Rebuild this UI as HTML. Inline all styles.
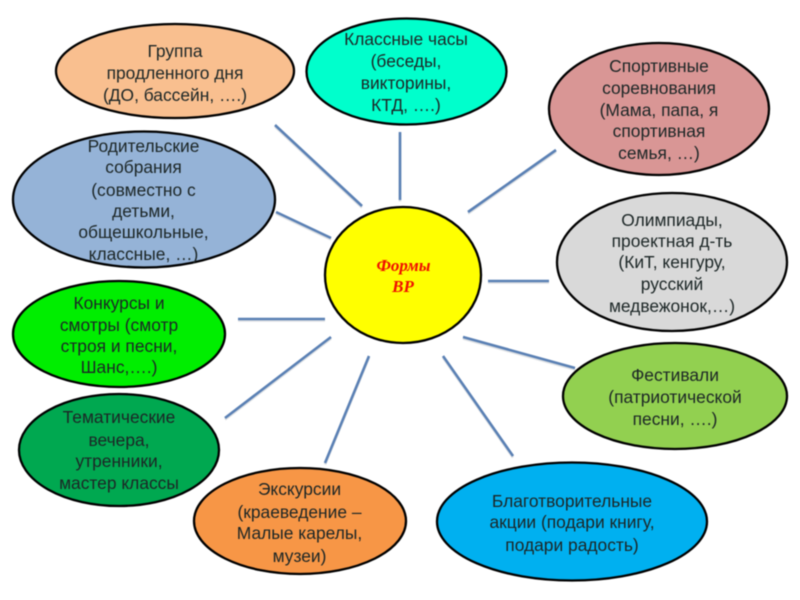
<!DOCTYPE html>
<html><head><meta charset="utf-8"><style>
html,body{margin:0;padding:0;background:#fff;width:800px;height:600px;overflow:hidden}
svg{display:block;filter:blur(.5px)}
text{font-family:"Liberation Sans",sans-serif;font-size:17.4px;fill:#1c2626;text-anchor:middle}
text.c{font-family:"Liberation Serif",serif;font-size:17px;font-weight:bold;font-style:italic;fill:#f01000}
ellipse{stroke:#000;stroke-width:2.3}
line{stroke:#5a80b4;stroke-width:2.6}
line.s{stroke:#c8ccd2;stroke-width:2.6;opacity:.6}
</style></head><body>
<svg width="800" height="600" viewBox="0 0 800 600" xmlns="http://www.w3.org/2000/svg">
<rect width="800" height="600" fill="#fff"/>
<g transform="translate(0 1.5)">
<line class="s" x1="275" y1="125" x2="362" y2="206"/>
<line class="s" x1="400" y1="132" x2="400" y2="200"/>
<line class="s" x1="468" y1="212" x2="556" y2="150"/>
<line class="s" x1="276" y1="212" x2="331" y2="238"/>
<line class="s" x1="488" y1="281" x2="549" y2="281"/>
<line class="s" x1="238" y1="319" x2="325" y2="319"/>
<line class="s" x1="331" y1="337" x2="225" y2="418"/>
<line class="s" x1="369" y1="356" x2="325" y2="463"/>
<line class="s" x1="463" y1="337" x2="575" y2="368"/>
<line class="s" x1="443" y1="356" x2="513" y2="456"/>
</g>
<line x1="275" y1="125" x2="362" y2="206"/>
<line x1="400" y1="132" x2="400" y2="200"/>
<line x1="468" y1="212" x2="556" y2="150"/>
<line x1="276" y1="212" x2="331" y2="238"/>
<line x1="488" y1="281" x2="549" y2="281"/>
<line x1="238" y1="319" x2="325" y2="319"/>
<line x1="331" y1="337" x2="225" y2="418"/>
<line x1="369" y1="356" x2="325" y2="463"/>
<line x1="463" y1="337" x2="575" y2="368"/>
<line x1="443" y1="356" x2="513" y2="456"/>

<ellipse cx="175" cy="71" rx="119" ry="47" fill="#f9bf8f"/>
<ellipse cx="406.500" cy="71.500" rx="100" ry="53" fill="#00ffcc"/>
<ellipse cx="659" cy="109" rx="110" ry="66" fill="#d99695"/>
<ellipse cx="144" cy="199.500" rx="131" ry="68" fill="#95b3d7"/>
<ellipse cx="672" cy="262" rx="115" ry="69" fill="#d9d9d9"/>
<ellipse cx="403" cy="275" rx="78" ry="68" fill="#ffff00"/>
<ellipse cx="119" cy="334" rx="106" ry="53" fill="#00ee00"/>
<ellipse cx="675" cy="396" rx="112" ry="53" fill="#92d050"/>
<ellipse cx="119" cy="450" rx="100" ry="56" fill="#00a850"/>
<ellipse cx="300" cy="521" rx="106" ry="53" fill="#f79646"/>
<ellipse cx="572" cy="521.500" rx="135" ry="59" fill="#00b0f0"/>

<text x="175" y="57">Группа</text>
<text x="175" y="79">продленного дня</text>
<text x="175" y="101">(ДО, бассейн, ….)</text>

<text x="406" y="45">Классные часы</text>
<text x="406" y="67">(беседы,</text>
<text x="406" y="89">викторины,</text>
<text x="406" y="111">КТД, ….)</text>

<text x="659" y="72">Спортивные</text>
<text x="659" y="94">соревнования</text>
<text x="659" y="116">(Мама, папа, я</text>
<text x="659" y="137">спортивная</text>
<text x="659" y="159">семья, …)</text>

<text x="143.500" y="152">Родительские</text>
<text x="143.500" y="173">собрания</text>
<text x="143.500" y="196">(совместно с</text>
<text x="143.500" y="217">детьми,</text>
<text x="143.500" y="238">общешкольные,</text>
<text x="143.500" y="260">классные, …)</text>

<text x="672" y="226">Олимпиады,</text>
<text x="672" y="247">проектная д-ть</text>
<text x="672" y="268">(КиТ, кенгуру,</text>
<text x="672" y="290">русский</text>
<text x="672" y="312">медвежонок,…)</text>

<text class="c" x="403.500" y="271">Формы</text>
<text class="c" x="403" y="292">ВР</text>

<text x="119" y="309">Конкурсы и</text>
<text x="119" y="331">смотры (смотр</text>
<text x="119" y="352">строя и песни,</text>
<text x="119" y="373">Шанс,….)</text>

<text x="675" y="381">Фестивали</text>
<text x="675" y="403">(патриотической</text>
<text x="675" y="425">песни, ….)</text>

<text x="119" y="423">Тематические</text>
<text x="119" y="446">вечера,</text>
<text x="119" y="467">утренники,</text>
<text x="119" y="489">мастер классы</text>

<text x="299.500" y="495">Экскурсии</text>
<text x="299.500" y="518">(краеведение –</text>
<text x="299.500" y="539">Малые карелы,</text>
<text x="299.500" y="562">музеи)</text>

<text x="572" y="507">Благотворительные</text>
<text x="572" y="528">акции (подари книгу,</text>
<text x="572" y="551">подари радость)</text>
</svg>
</body></html>
